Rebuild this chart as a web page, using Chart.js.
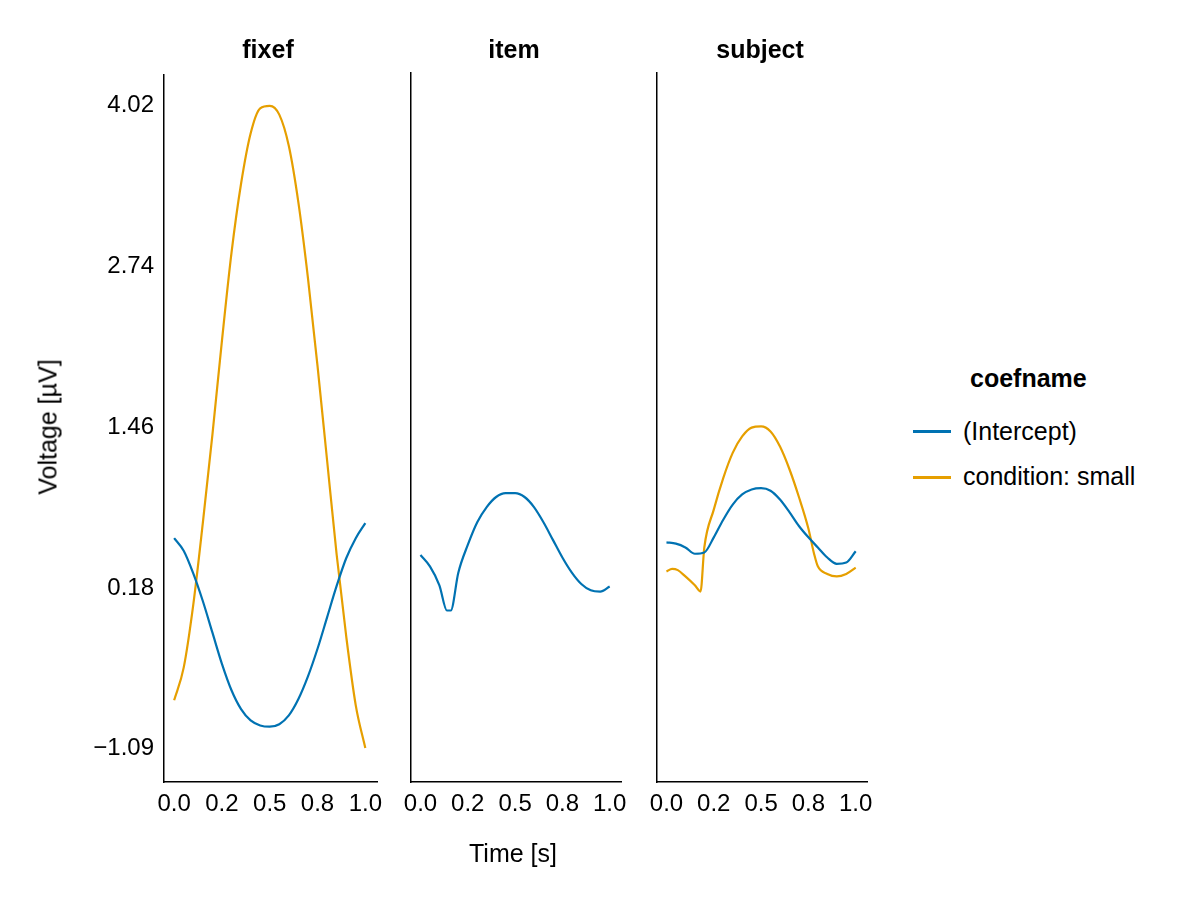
<!DOCTYPE html>
<html>
<head>
<meta charset="utf-8">
<script src="https://cdn.jsdelivr.net/npm/chart.js@4"></script>
<style>
  body { margin: 0; width: 1200px; height: 900px; background: #fff; position: relative; font-family: "Liberation Sans", Arial, sans-serif; overflow: hidden; }
  canvas { position: absolute; }
  .lbl { position: absolute; font-size: 25px; color: #000; white-space: nowrap; line-height: 1; }
  .title { font-weight: bold; transform: translateX(-50%); }
</style>
</head>
<body>
<canvas id="c1"></canvas>
<canvas id="c2"></canvas>
<canvas id="c3"></canvas>

<div class="lbl title" style="left:268px; top:37px;">fixef</div>
<div class="lbl title" style="left:514px; top:37px;">item</div>
<div class="lbl title" style="left:760px; top:37px;">subject</div>
<div class="lbl" style="left:513px; top:841px; transform: translateX(-50%);">Time [s]</div>
<div class="lbl" style="left:48px; top:427px; transform: translate(-50%,-50%) rotate(-90deg);">Voltage [µV]</div>

<div class="lbl" style="left:970px; top:366px; font-weight:bold;">coefname</div>
<div style="position:absolute; left:913px; top:430px; width:38px; height:2.5px; background:#0072b2;"></div>
<div class="lbl" style="left:963px; top:419px;">(Intercept)</div>
<div style="position:absolute; left:913px; top:476px; width:38px; height:2.5px; background:#e69f00;"></div>
<div class="lbl" style="left:963px; top:464px;">condition: small</div>

<script>
// Dữ liệu
const yTicks = [-1.09, 0.18, 1.46, 2.74, 4.02];
const xTicks = [0, 0.25, 0.5, 0.75, 1.0];
const xTickLabels = ['0.0', '0.2', '0.5', '0.8', '1.0'];

const fixefTime = [0, 0.05, 0.1, 0.15, 0.2, 0.25, 0.3, 0.35, 0.4, 0.45, 0.5, 0.55, 0.6, 0.65, 0.7, 0.75, 0.8, 0.85, 0.9, 0.95, 1.0];
const fixefIntercept = [0.58, 0.48, 0.3, 0.08, -0.17, -0.42, -0.63, -0.78, -0.87, -0.91, -0.92, -0.9, -0.83, -0.7, -0.52, -0.3, -0.05, 0.2, 0.42, 0.58, 0.70];
const fixefSmall = [-0.71, -0.45, 0.05, 0.7, 1.4, 2.15, 2.85, 3.4, 3.8, 4.0, 4.02, 3.95, 3.7, 3.25, 2.65, 1.95, 1.2, 0.45, -0.2, -0.75, -1.09];

const itemTime = [0, 0.05, 0.1, 0.14, 0.16, 0.2, 0.25, 0.3, 0.35, 0.4, 0.45, 0.5, 0.55, 0.6, 0.65, 0.7, 0.75, 0.8, 0.85, 0.9, 0.95, 1.0];
const itemIntercept = [0.44, 0.35, 0.2, 0.0, 0.0, 0.3, 0.52, 0.7, 0.82, 0.9, 0.93, 0.93, 0.9, 0.82, 0.7, 0.56, 0.42, 0.3, 0.21, 0.16, 0.15, 0.19];

const subjTime = [0, 0.05, 0.1, 0.15, 0.2, 0.25, 0.3, 0.35, 0.4, 0.45, 0.5, 0.55, 0.6, 0.65, 0.7, 0.75, 0.8, 0.85, 0.9, 0.95, 1.0];
const subjIntercept = [0.54, 0.53, 0.5, 0.45, 0.46, 0.58, 0.72, 0.84, 0.92, 0.96, 0.97, 0.95, 0.88, 0.78, 0.67, 0.58, 0.5, 0.42, 0.37, 0.38, 0.47];
const subjSmallTime = [0, 0.03, 0.06, 0.1, 0.15, 0.18, 0.2, 0.25, 0.3, 0.35, 0.4, 0.45, 0.5, 0.55, 0.6, 0.65, 0.7, 0.75, 0.78, 0.8, 0.85, 0.9, 0.95, 1.0];
const subjSmall = [0.31, 0.33, 0.32, 0.27, 0.2, 0.15, 0.5, 0.8, 1.05, 1.25, 1.38, 1.45, 1.46, 1.42, 1.3, 1.12, 0.9, 0.65, 0.45, 0.35, 0.29, 0.27, 0.29, 0.34];

const BLUE = '#0072b2', ORANGE = '#e69f00';
const FONT = { family: '"Liberation Sans", Arial, sans-serif', size: 24 };

function pts(xs, ys) { return xs.map((x, i) => ({ x: x, y: ys[i] })); }

// Vẽ một panel
function makePanel(id, left, top, width, height, yWidth, showY, series) {
    const cv = document.getElementById(id);
    cv.width = width; cv.height = height;
    cv.style.left = left + 'px';
    cv.style.top = top + 'px';
    cv.style.width = width + 'px';
    cv.style.height = height + 'px';
    new Chart(cv, {
        type: 'line',
        data: {
            datasets: series.map(s => ({
                data: s.data, borderColor: s.color, borderWidth: 2.2,
                pointRadius: 0, cubicInterpolationMode: 'monotone', fill: false
            }))
        },
        options: {
            responsive: false, animation: false, maintainAspectRatio: false,
            devicePixelRatio: 1,
            layout: { padding: 0 },
            plugins: { legend: { display: false }, tooltip: { enabled: false } },
            scales: {
                x: {
                    type: 'linear', min: -0.053, max: 1.063,
                    afterBuildTicks: a => { a.ticks = xTicks.map(v => ({ value: v })); },
                    afterFit: a => { a.height = 60; },
                    grid: { display: false, drawTicks: true, tickLength: 6, color: '#000' },
                    border: { color: '#000', width: 1.5 },
                    ticks: { color: '#000', font: FONT, maxRotation: 0, padding: 2,
                        callback: v => xTickLabels[xTicks.indexOf(v)] }
                },
                y: {
                    type: 'linear', min: -1.36, max: 4.27,
                    afterBuildTicks: a => { a.ticks = yTicks.map(v => ({ value: v })); },
                    afterFit: a => { a.width = yWidth; },
                    grid: { display: false, drawTicks: showY, tickLength: 6, color: '#000' },
                    border: { color: '#000', width: 1.5 },
                    ticks: { display: showY, color: '#000', font: FONT, padding: 4,
                        callback: v => v.toFixed(2).replace('-', '−') }
                }
            }
        }
    });
}

makePanel('c1', 0, 56, 384, 786, 164, true, [
    { data: pts(fixefTime, fixefIntercept), color: BLUE },
    { data: pts(fixefTime, fixefSmall), color: ORANGE }
]);
makePanel('c2', 402, 72, 226, 770, 2, false, [
    { data: pts(itemTime, itemIntercept), color: BLUE }
]);
makePanel('c3', 648, 72, 226, 770, 2, false, [
    { data: pts(subjTime, subjIntercept), color: BLUE },
    { data: pts(subjSmallTime, subjSmall), color: ORANGE }
]);
</script>
</body>
</html>
